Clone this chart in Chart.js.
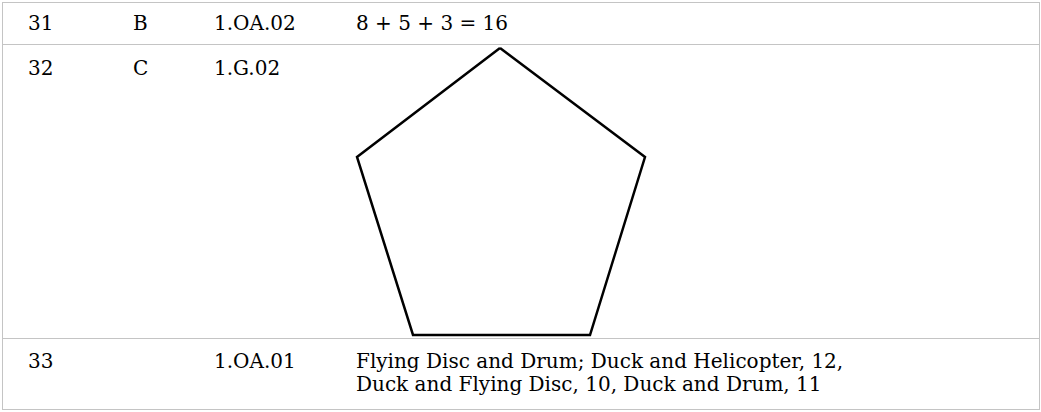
<!DOCTYPE html>
<html>
<head>
<meta charset="utf-8">
<script src="https://cdn.jsdelivr.net/npm/chart.js@4/dist/chart.umd.min.js"></script>
<style>
  html, body { margin: 0; padding: 0; background: #fff; }
  body { width: 1041px; height: 412px; position: relative; overflow: hidden;
         font-family: "DejaVu Serif", serif; font-size: 20px; color: #000; }
  .box { position: absolute; left: 2px; top: 2px; width: 1036px; height: 406px;
         border: 1.5px solid #c4c4c4; }
  .hline { position: absolute; left: 2px; width: 1038px; height: 0;
           border-top: 1.5px solid #c4c4c4; }
  .t { position: absolute; line-height: 24px; white-space: nowrap; }
  #wrap { position: absolute; left: 0; top: 0; width: 1041px; height: 412px; }
</style>
</head>
<body>
<div class="box"></div>
<div class="hline" style="top:43.5px"></div>
<div class="hline" style="top:337.5px"></div>
<div id="cells"></div>
<div id="wrap"><canvas id="c"></canvas></div>
<script>
// Table content
const questionNumbers = ["31", "32", "33"];
const answerKeys = ["B", "C", ""];
const standards = ["1.OA.02", "1.G.02", "1.OA.01"];
const answers = [
  ["8 + 5 + 3 = 16"],
  [""],
  ["Flying Disc and Drum; Duck and Helicopter, 12,", "Duck and Flying Disc, 10, Duck and Drum, 11"]
];

// Pentagon vertices (picture coordinates)
const pentagonX = [500, 645, 590, 413, 357, 500];
const pentagonY = [48, 157, 335, 335, 157, 48];

// layout of text
const colLeft = [28, 133, 214, 356];
const rowTop = [11, 56, 349];
const lineStep = 23;

const cells = document.getElementById('cells');
function addText(txt, x, y) {
  const d = document.createElement('div');
  d.className = 't';
  d.style.left = x + 'px';
  d.style.top = y + 'px';
  d.textContent = txt;
  cells.appendChild(d);
}
for (let r = 0; r < questionNumbers.length; r++) {
  addText(questionNumbers[r], colLeft[0], rowTop[r]);
  if (answerKeys[r]) addText(answerKeys[r], colLeft[1], rowTop[r]);
  addText(standards[r], colLeft[2], rowTop[r]);
  answers[r].forEach((line, i) => { if (line) addText(line, colLeft[3], rowTop[r] + i * lineStep); });
}

const pts = pentagonX.map((x, i) => ({ x: x, y: pentagonY[i] }));
new Chart(document.getElementById('c'), {
  type: 'scatter',
  data: {
    datasets: [{
      data: pts,
      showLine: true,
      fill: false,
      borderColor: '#000',
      borderWidth: 2.5,
      borderJoinStyle: 'miter',
      pointRadius: 0,
      tension: 0
    }]
  },
  options: {
    responsive: true,
    maintainAspectRatio: false,
    animation: false,
    layout: { padding: 0 },
    plugins: { legend: { display: false }, tooltip: { enabled: false } },
    events: [],
    scales: {
      x: { type: 'linear', min: 0, max: 1041, display: false },
      y: { type: 'linear', min: 0, max: 412, reverse: true, display: false }
    }
  }
});
</script>
</body>
</html>
